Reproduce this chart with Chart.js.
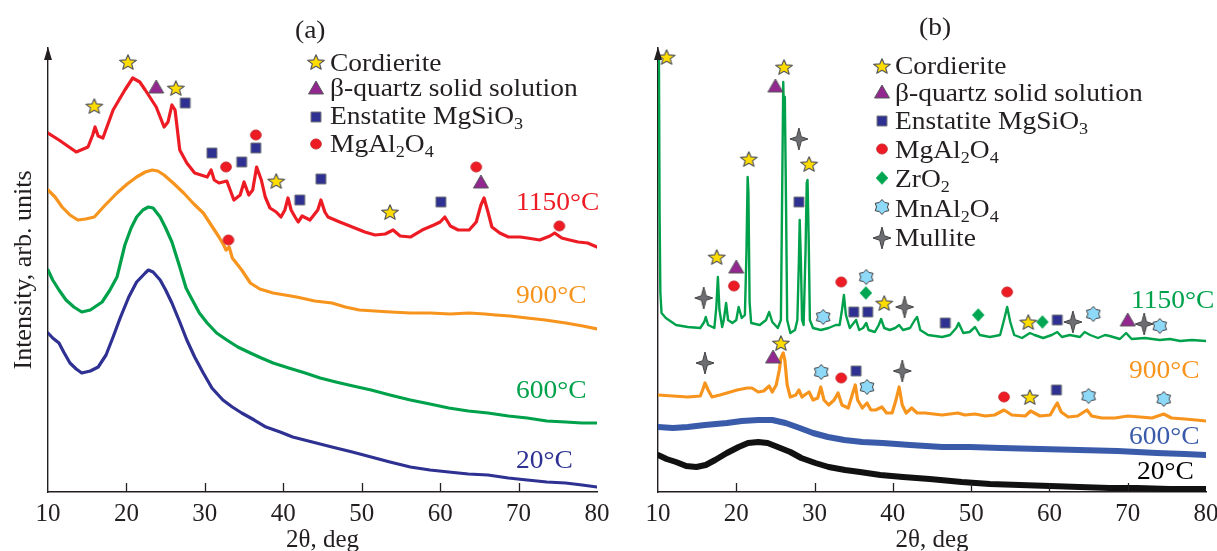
<!DOCTYPE html>
<html><head><meta charset="utf-8">
<script src="https://cdn.jsdelivr.net/npm/chart.js@4.4.1/dist/chart.umd.min.js"></script>
<style>
html,body{margin:0;padding:0;background:#fff;overflow:hidden;width:1217px;height:551px;}
#wrap{position:relative;width:1217px;height:551px;overflow:hidden;background:#fff;}
canvas.ch{position:absolute;top:0;}
.t{position:absolute;font-family:'Liberation Serif','Times New Roman',serif;font-size:25px;line-height:1;white-space:nowrap;transform:scaleX(1.1);transform-origin:0 0;color:#231f20;}
.t sub{font-size:0.66em;vertical-align:-0.3em;line-height:0;}
img.mk{position:absolute;}
</style></head><body><div id="wrap">
<canvas class="ch" id="ca" width="610" height="560" style="left:0"></canvas>
<canvas class="ch" id="cb" width="607" height="560" style="left:610px"></canvas>
</div>
<script>
// ---------- DATA (2θ in deg, intensity in arbitrary units) ----------
const xTicks = [10,20,30,40,50,60,70,80];
const yRange = [0,444];

// Panel (a)
const a1150 = [[10,359],[11.4,352],[12.5,346],[13.6,340],[15.1,345],[15.7,357],[16.0,365],[16.4,356],[17.0,354],[18.3,382],[19.8,402],[20.8,414],[21.7,410],[22.4,402],[23.8,385],[24.8,365],[25.3,370],[25.8,387],[26.2,382],[26.8,342],[27.7,329],[28.7,319],[30.3,315],[30.8,322],[31.2,312],[31.8,309],[32.8,311],[33.7,292],[34.5,297],[35.0,310],[35.6,297],[36.1,302],[36.6,325],[37.2,312],[37.7,295],[38.3,284],[39.1,280],[39.7,275],[40.2,282],[40.6,294],[41.0,282],[41.5,275],[41.9,270],[42.4,276],[43.4,272],[44.4,282],[44.8,292],[45.3,280],[45.7,275],[47.2,270],[48.8,265],[50.4,260],[51.7,257],[53.0,258],[54.0,262],[54.9,256],[56.2,255],[57.7,262],[59.2,267],[60.0,270],[60.6,275],[61.3,266],[62.3,262],[63.7,262],[64.6,270],[65.2,287],[65.6,294],[66.1,280],[66.6,265],[67.6,259],[68.7,255],[70.2,255],[71.1,254],[72.7,252],[74.0,256],[74.6,259],[75.5,254],[76.5,252],[77.6,250],[78.8,249],[80,245]];
const a900 = [[10,302],[10.9,295],[11.8,285],[12.8,277],[13.8,272],[14.8,273],[15.9,275],[17.3,287],[18.8,299],[20.1,308],[21.3,315],[22.4,320],[23.3,322],[24.0,321],[24.8,317],[26.1,308],[27.3,299],[28.6,288],[29.8,279],[30.8,267],[31.8,255],[32.4,247],[32.7,242],[33.1,245],[33.5,234],[34.7,222],[35.8,209],[37.0,203],[38.7,199],[40.2,197],[41.7,195],[44.0,191],[46.2,189],[47.9,185],[49.7,182],[51.7,181],[53.7,180],[56.2,179],[58.7,179],[61.3,178],[63.7,179],[65.7,178],[67.1,177],[68.9,176],[71.1,174],[73.4,172],[76.0,169],[78.2,166],[80,163]];
const a600 = [[10,222],[10.6,212],[11.4,202],[12.3,192],[13.3,185],[14.3,180],[15.4,182],[16.9,190],[17.9,202],[18.8,215],[19.8,247],[20.6,264],[21.3,275],[22.1,282],[22.8,285],[23.4,284],[24.3,275],[25.0,264],[25.8,250],[26.8,225],[27.6,204],[28.2,195],[29.3,179],[30.3,169],[31.5,159],[32.8,152],[34.2,145],[35.8,139],[37.2,134],[38.7,129],[40.7,124],[42.8,119],[44.7,114],[46.7,110],[48.9,106],[51.2,102],[53.6,97],[56.2,92],[58.7,88],[61.1,84],[63.6,81],[66.1,79],[68.7,76],[71.1,74],[73.6,71],[76.0,70],[78.1,69],[80,69]];
const a20 = [[10,159],[10.6,154],[11.4,149],[12.0,140],[12.8,129],[13.6,123],[14.3,119],[15.4,121],[16.4,125],[17.4,137],[18.3,155],[19.2,174],[20.3,195],[21.3,210],[22.4,219],[22.8,222],[23.4,220],[24.3,212],[25.0,202],[25.8,189],[26.8,170],[27.7,152],[28.7,135],[29.8,119],[30.9,104],[32.3,92],[33.5,85],[34.7,79],[36.3,72],[37.8,65],[39.6,60],[41.2,55],[43.7,50],[46.2,45],[48.8,40],[51.2,35],[53.6,30],[56.2,25],[58.7,22],[61.1,20],[63.6,18],[66.1,17],[68.7,14],[71.1,12],[73.6,10],[76.0,9],[78.1,7],[80,5]];

// Panel (b)
const b1150 = [[10,425],[10.12,432],[10.2,280],[10.3,200],[10.45,179],[11.0,174],[12.3,167],[13.8,165],[15.4,164],[15.9,170],[16.1,175],[16.4,167],[17.2,164],[17.45,185],[17.65,215],[17.85,182],[18.2,165],[18.4,172],[18.7,189],[18.95,172],[19.5,169],[20.0,172],[20.3,185],[20.7,174],[21.1,177],[21.3,240],[21.45,315],[21.55,300],[21.7,190],[21.9,169],[23.0,167],[23.8,172],[24.2,180],[24.6,170],[25.3,164],[25.7,172],[25.85,292],[26.0,410],[26.1,372],[26.2,395],[26.35,292],[26.5,172],[26.9,159],[27.5,162],[27.8,172],[28.0,232],[28.1,272],[28.25,232],[28.4,172],[28.6,167],[28.85,242],[29.0,309],[29.1,312],[29.25,252],[29.4,172],[29.8,164],[30.8,162],[31.8,164],[32.7,167],[33.2,167],[33.5,182],[33.75,197],[34.0,177],[34.5,164],[35.0,169],[35.3,172],[35.7,162],[36.2,164],[36.6,169],[36.9,162],[37.7,160],[38.2,167],[38.5,173],[38.9,164],[39.6,162],[40.3,164],[40.8,167],[41.3,162],[42.2,164],[42.8,172],[43.1,175],[43.5,162],[44.5,157],[46.3,155],[47.3,157],[48.1,164],[48.4,169],[49.0,159],[49.8,160],[50.5,165],[51.1,157],[52.4,155],[53.7,157],[54.2,172],[54.6,185],[55.0,170],[55.5,157],[56.5,154],[57.5,159],[58.1,157],[59.2,154],[60.3,157],[61.0,160],[61.6,155],[62.6,157],[63.9,155],[64.5,160],[65.2,157],[66.2,154],[67.1,157],[67.7,156],[69.0,153],[69.8,159],[70.5,153],[72.2,154],[74.1,152],[75.4,153],[76.7,151],[78.2,152],[80,151]];
const b900 = [[10,97],[11.9,96],[13.8,95],[15.4,96],[15.7,102],[16.0,109],[16.4,102],[16.9,95],[17.9,97],[18.8,99],[20.1,102],[21.4,104],[22.0,104],[22.8,100],[23.5,101],[24.2,106],[24.6,100],[25.1,107],[25.5,122],[25.7,134],[26.0,139],[26.2,132],[26.5,107],[26.9,95],[27.6,97],[28.0,102],[28.4,95],[28.9,98],[29.3,100],[29.8,92],[30.4,94],[30.8,105],[31.2,92],[31.8,87],[32.5,92],[33.0,99],[33.5,87],[34.3,84],[34.8,97],[35.2,107],[35.5,92],[36.1,84],[36.7,89],[37.2,82],[37.8,82],[38.6,85],[39.2,79],[39.9,79],[40.4,92],[40.8,105],[41.2,87],[41.7,79],[42.4,84],[43.1,79],[44.1,79],[46.3,77],[48.3,79],[49.2,77],[50.5,78],[51.8,76],[53.0,77],[54.2,82],[55.2,77],[56.9,76],[57.6,81],[58.8,76],[60.1,77],[60.6,84],[61.0,89],[61.5,80],[62.4,75],[63.6,76],[64.8,82],[65.4,76],[66.7,74],[68.4,74],[70.0,76],[71.6,75],[73.1,74],[74.6,78],[75.6,74],[77.3,73],[78.7,72],[80,71]];
const b600 = [[10,65],[11.9,64],[13.8,65],[16.0,67],[18.8,69],[20.7,71],[22.8,72],[24.6,72],[26.3,69],[28.1,64],[29.8,59],[31.7,55],[33.8,52],[36.1,50],[38.7,49],[42.2,47],[46.3,45],[49.8,45],[53.8,44],[58.8,43],[63.8,42],[68.7,41],[73.7,39],[77.3,38],[80,37]];
const b20 = [[10,37],[11.1,33],[12.3,30],[13.6,26],[14.9,25],[16.1,27],[17.3,32],[18.8,39],[20.3,45],[21.5,49],[22.8,50],[24.0,49],[25.3,45],[26.9,40],[28.3,34],[30.1,29],[31.8,25],[33.9,22],[35.8,20],[38.4,17],[41.3,15],[44.7,13],[48.8,10],[52.4,8],[56.2,7],[60.1,6],[63.8,5],[67.7,4],[71.2,4],[75.4,3],[80,3]];

// Phase markers [2θ, intensity]
const aCordierite = [[15.9,386],[20.2,430],[26.3,404],[39.1,311],[53.6,280]];
const aQuartz = [[23.8,405],[65.2,310]];
const aEnstatite = [[27.5,389],[30.9,339],[34.7,330],[36.5,344],[42.1,292],[44.8,313],[60.1,290]];
const aSpinel = [[32.7,325],[36.5,357],[64.6,325],[75.2,266],[33.0,252]];

const bCordierite = [[11.1,435],[26.1,425],[21.6,333],[29.3,328],[17.5,235],[38.9,189],[57.3,170],[25.7,149],[57.5,95]];
const bQuartz = [[25.0,406],[20.0,225],[70.0,172],[24.7,135]];
const bEnstatite = [[28.0,290],[35.0,180],[36.8,180],[46.7,169],[61.0,172],[35.3,121],[60.9,102]];
const bSpinel = [[19.7,206],[33.4,210],[54.6,200],[33.4,114],[54.2,95]];
const bZrO2 = [[36.55,199],[50.9,177],[59.1,170]];
const bMnAl = [[31.1,175],[36.6,215],[65.6,178],[74.1,166],[30.85,120],[36.7,105],[65.0,96],[74.6,93]];
const bMullite = [[28.0,353],[15.84,194],[41.5,185],[63.0,170],[72.1,168],[16.0,129],[41.2,121]];

const legendA = ['Cordierite','β-quartz solid solution','Enstatite MgSiO<sub>3</sub>','MgAl<sub>2</sub>O<sub>4</sub>'];
const legendB = ['Cordierite','β-quartz solid solution','Enstatite MgSiO<sub>3</sub>','MgAl<sub>2</sub>O<sub>4</sub>','ZrO<sub>2</sub>','MnAl<sub>2</sub>O<sub>4</sub>','Mullite'];
const tempLabels = ['1150°C','900°C','600°C','20°C'];

// ---------- STYLE ----------
const AX = '#231f20';
const C = {red:'#ed1c24', orange:'#f7941d', green:'#00a14b', navy:'#2e3192', blue:'#3a5ba9', black:'#111'};

function makeMarker(kind){
  const c=document.createElement('canvas'); c.width=26; c.height=26;
  const g=c.getContext('2d'); g.translate(13,13); g.lineJoin='round'; g.beginPath();
  let fill='#000', stroke='#555', lw=1;
  if(kind==='star'){ const R=8,r=3.5; for(let i=0;i<10;i++){const a=-Math.PI/2+i*Math.PI/5;const rr=i%2?r:R;g.lineTo(rr*Math.cos(a)*1.1,rr*Math.sin(a)+0.8);} fill='#ffdd00'; stroke='#58595b'; lw=1.2; }
  else if(kind==='tri'){ g.moveTo(0,-7); g.lineTo(7.5,6); g.lineTo(-7.5,6); fill='#92278f'; stroke='#58595b'; }
  else if(kind==='sq'){ g.rect(-5,-5,10,10); fill='#2e3192'; stroke='#77787b'; }
  else if(kind==='circ'){ g.ellipse(0,0,5.4,5.1,0,0,Math.PI*2); fill='#ed1c24'; stroke='#c1272d'; lw=0.8; }
  else if(kind==='dia'){ g.moveTo(0,-6.5); g.lineTo(6,0); g.lineTo(0,6.5); g.lineTo(-6,0); fill='#00a651'; stroke='#00a651'; lw=0.5; }
  else if(kind==='hex'){ const R=7.5,r=5.2; for(let i=0;i<12;i++){const a=-Math.PI/2+i*Math.PI/6;const rr=i%2?r:R;g.lineTo(rr*Math.cos(a)*1.05,rr*Math.sin(a));} fill='#8ed8f8'; stroke='#414042'; lw=1; }
  else if(kind==='mul'){ const pts=[[0,-11],[2.3,-2.3],[9,0],[2.3,2.3],[0,11],[-2.3,2.3],[-9,0],[-2.3,-2.3]]; pts.forEach(p=>g.lineTo(p[0],p[1])); fill='#6d6e71'; stroke='#414042'; lw=1; }
  g.closePath(); g.fillStyle=fill; g.fill(); g.strokeStyle=stroke; g.lineWidth=lw; g.stroke();
  return c;
}
const MK = {star:makeMarker('star'),tri:makeMarker('tri'),sq:makeMarker('sq'),circ:makeMarker('circ'),dia:makeMarker('dia'),hex:makeMarker('hex'),mul:makeMarker('mul')};

const toXY = arr => arr.map(p=>({x:p[0],y:p[1]}));
function lineDS(arr,color,w){ return {type:'line',data:toXY(arr),borderColor:color,borderWidth:w,pointRadius:0,tension:0,fill:false,order:2,borderJoinStyle:'round',borderCapStyle:'round'}; }
function markDS(arr,img){ return {type:'scatter',data:toXY(arr),pointStyle:img,pointRadius:6,order:0,clip:false,showLine:false}; }

const axisDeco = {id:'axisDeco', afterDatasetsDraw(chart){
  const {ctx, chartArea:a, scales:{x}} = chart;
  ctx.save(); ctx.strokeStyle=AX; ctx.lineWidth=1.3;
  xTicks.forEach(v=>{ if(v<=xTicks[0]||v>=xTicks[xTicks.length-1]) return; const p=Math.round(x.getPixelForValue(v))+0.5; ctx.beginPath(); ctx.moveTo(p,a.bottom); ctx.lineTo(p,a.bottom-9); ctx.stroke(); });
  ctx.fillStyle=AX; ctx.beginPath(); ctx.moveTo(a.left,a.top-1); ctx.lineTo(a.left-4,a.top+12); ctx.lineTo(a.left+4,a.top+12); ctx.closePath(); ctx.fill();
  ctx.restore();
}};

function makeChart(id, datasets, padRight, yTitle){
  return new Chart(document.getElementById(id), {
    data:{datasets},
    options:{
      responsive:false, animation:false, devicePixelRatio:1,
      layout:{padding:{top:48,right:padRight,left:0,bottom:0}},
      plugins:{legend:{display:false},tooltip:{enabled:false}},
      scales:{
        x:{type:'linear',position:'bottom',min:xTicks[0],max:xTicks[xTicks.length-1],
           afterBuildTicks:s=>{s.ticks=xTicks.map(v=>({value:v}));},
           ticks:{padding:7,maxRotation:0,autoSkip:false,color:AX,font:{family:"'Liberation Serif', serif",size:25}},
           grid:{display:false,drawTicks:false},
           border:{display:true,color:AX,width:1.4},
           title:{display:true,text:'2θ, deg',color:AX,font:{family:"'Liberation Serif', serif",size:25},padding:{top:0,bottom:5}},
           afterFit:s=>{s.height=68;s.paddingLeft=0;s.paddingRight=0;}},
        y:{type:'linear',position:'left',min:yRange[0],max:yRange[1],
           ticks:{display:false},grid:{display:false,drawTicks:false},
           border:{display:true,color:AX,width:1.4},
           title:{display:!!yTitle,text:yTitle||'',color:AX,font:{family:"'Liberation Serif', serif",size:26},padding:{top:9,bottom:0}},
           afterFit:s=>{s.width=48;s.paddingTop=0;s.paddingBottom=0;}}
      }
    },
    plugins:[axisDeco]
  });
}

makeChart('ca', [
  markDS(aCordierite,MK.star), markDS(aQuartz,MK.tri), markDS(aEnstatite,MK.sq), markDS(aSpinel,MK.circ),
  lineDS(a1150,C.red,3.2), lineDS(a900,C.orange,3.2), lineDS(a600,C.green,3.2), lineDS(a20,C.navy,3.2)
], 13, 'Intensity, arb. units');

makeChart('cb', [
  markDS(bCordierite,MK.star), markDS(bQuartz,MK.tri), markDS(bEnstatite,MK.sq), markDS(bSpinel,MK.circ),
  markDS(bZrO2,MK.dia), markDS(bMnAl,MK.hex), markDS(bMullite,MK.mul),
  lineDS(b1150,C.green,2.4), lineDS(b900,C.orange,3.2), lineDS(b600,C.blue,6), lineDS(b20,C.black,6)
], 11, '');

// ---------- TEXT OVERLAYS ----------
const wrap=document.getElementById('wrap');
function txt(html,left,top,color,center){
  const d=document.createElement('div'); d.className='t'; d.innerHTML=html;
  d.style.left=left+'px'; d.style.top=top+'px'; if(color) d.style.color=color;
  wrap.appendChild(d);
  if(center){ const w=d.getBoundingClientRect().width; d.style.left=(left-w/2)+'px'; }
  return d;
}
function mk(img,cx,cy){ const i=document.createElement('img'); i.className='mk'; i.src=img.toDataURL(); i.style.left=(cx-13)+'px'; i.style.top=(cy-13)+'px'; wrap.appendChild(i); }

txt('(a)',310,17,AX,true);
txt('(b)',935,14,AX,true);

const legAIcons=[MK.star,MK.tri,MK.sq,MK.circ];
const legATops=[50,75,103,131], legAMy=[62,88,117,144];
legendA.forEach((s,i)=>{ mk(legAIcons[i],316,legAMy[i]); txt(s,330,legATops[i]); });

const legBIcons=[MK.star,MK.tri,MK.sq,MK.circ,MK.dia,MK.hex,MK.mul];
const legBTops=[53,80,108,137,166,196,225], legBMy=[66,92,121,149,178,207,238];
legendB.forEach((s,i)=>{ mk(legBIcons[i],882,legBMy[i]); txt(s,895,legBTops[i]); });

const aCols=[C.red,C.orange,C.green,C.navy], aTops=[189,282,377,447];
tempLabels.forEach((s,i)=>txt(s,516,aTops[i],aCols[i]));
const bCols=[C.green,C.orange,C.blue,'#000'], bTops=[287,357,423,458], bLefts=[1131,1129,1129,1137];
tempLabels.forEach((s,i)=>txt(s,bLefts[i],bTops[i],bCols[i]));
</script>
</body></html>
